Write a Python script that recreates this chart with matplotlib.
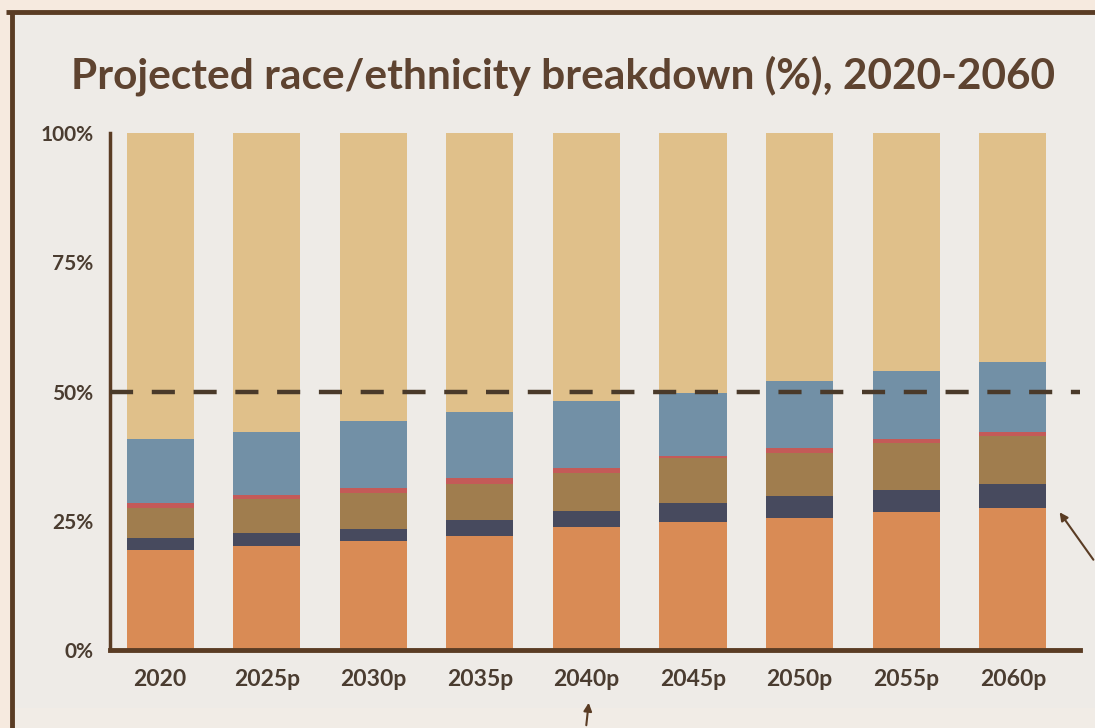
import numpy as np
import matplotlib.pyplot as plt
from matplotlib.patches import Rectangle, FancyArrowPatch

# Data (% of population in each year)
years = ["2020", "2025p", "2030p", "2035p", "2040p", "2045p", "2050p", "2055p", "2060p"]
hispanic = [19.3, 20.1, 21.1, 22.1, 23.7, 24.8, 25.5, 26.6, 27.5]
navy_group = [2.3, 2.5, 2.4, 3.0, 3.1, 3.7, 4.2, 4.3, 4.6]
brown_group = [5.8, 6.7, 6.8, 7.1, 7.5, 8.7, 8.5, 9.1, 9.2]
red_group = [1.0, 0.7, 1.1, 1.0, 0.9, 0.4, 0.9, 0.8, 0.8]
blue_group = [12.5, 12.2, 12.8, 12.9, 13.0, 12.2, 13.0, 13.2, 13.7]
white = [59.1, 57.8, 55.8, 53.9, 51.8, 50.2, 47.9, 46.0, 44.2]

series = [hispanic, navy_group, brown_group, red_group, blue_group, white]
colors = ["#D98B55", "#474A5E", "#A07D4E", "#C45A58", "#7290A6", "#E0C08A"]

BG = "#EEEBE7"
BROWN = "#5A3C24"
TEXT = "#4A3C30"
W, H = 1095, 728

fig = plt.figure(figsize=(10.95, 7.28), dpi=100)
fig.patch.set_facecolor("#F6EADF")

# background layer: inner panel, frame lines and pointer arrows (pixel coords)
bg = fig.add_axes([0, 0, 1, 1], zorder=0)
bg.set_xlim(0, W)
bg.set_ylim(H, 0)
bg.axis("off")
bg.add_patch(Rectangle((12, 12), W, H, facecolor=BG, edgecolor="none"))
bg.add_patch(Rectangle((14, 708), W, H, facecolor="#F1ECE6", edgecolor="none"))
bg.plot([12, 12], [12, H], color=BROWN, lw=3.5, solid_capstyle="butt")
bg.plot([6, W], [12, 12], color=BROWN, lw=3.5, solid_capstyle="butt")
bg.add_patch(FancyArrowPatch((586, H), (589, 700), arrowstyle="-|>", mutation_scale=12,
                             color=BROWN, lw=1.5))
bg.add_patch(FancyArrowPatch((W, 562), (1058, 510), arrowstyle="-|>", mutation_scale=12,
                             color=BROWN, lw=1.5))

ax = fig.add_axes([110 / W, 1 - 650 / H, 970 / W, 517 / H], zorder=1)
ax.set_facecolor("none")

x = np.arange(len(years))
bottom = np.zeros(len(years))
for vals, c in zip(series, colors):
    ax.bar(x, vals, width=0.63, bottom=bottom, color=c, linewidth=0, zorder=2)
    bottom += np.array(vals)

ax.axhline(50, color="#4A3A2A", lw=3.2, dashes=(5.2, 4.2), zorder=3)

ax.set_xlim(-0.47, 8.63)
ax.set_ylim(0, 100)
ax.set_yticks([0, 25, 50, 75, 100])
ax.set_yticklabels(["0%", "25%", "50%", "75%", "100%"])
ax.set_xticks(x)
ax.set_xticklabels(years)
ax.tick_params(axis="y", length=0, colors=TEXT, labelsize=15, pad=12)
ax.tick_params(axis="x", length=0, colors=TEXT, labelsize=16.5, pad=14)
for lab in ax.get_xticklabels() + ax.get_yticklabels():
    lab.set_fontweight("bold")
    lab.set_fontfamily("Lato")

for side in ["top", "right"]:
    ax.spines[side].set_visible(False)
ax.spines["left"].set_color(BROWN)
ax.spines["left"].set_linewidth(2.5)
ax.spines["bottom"].set_color(BROWN)
ax.spines["bottom"].set_linewidth(3.5)

fig.text(563 / W, 1 - 76 / H, "Projected race/ethnicity breakdown (%), 2020-2060",
         ha="center", va="center", fontsize=30.5, fontweight="bold", family="Lato",
         color="#5E4330")

fig.savefig("out.png", dpi=100, facecolor=fig.get_facecolor())
